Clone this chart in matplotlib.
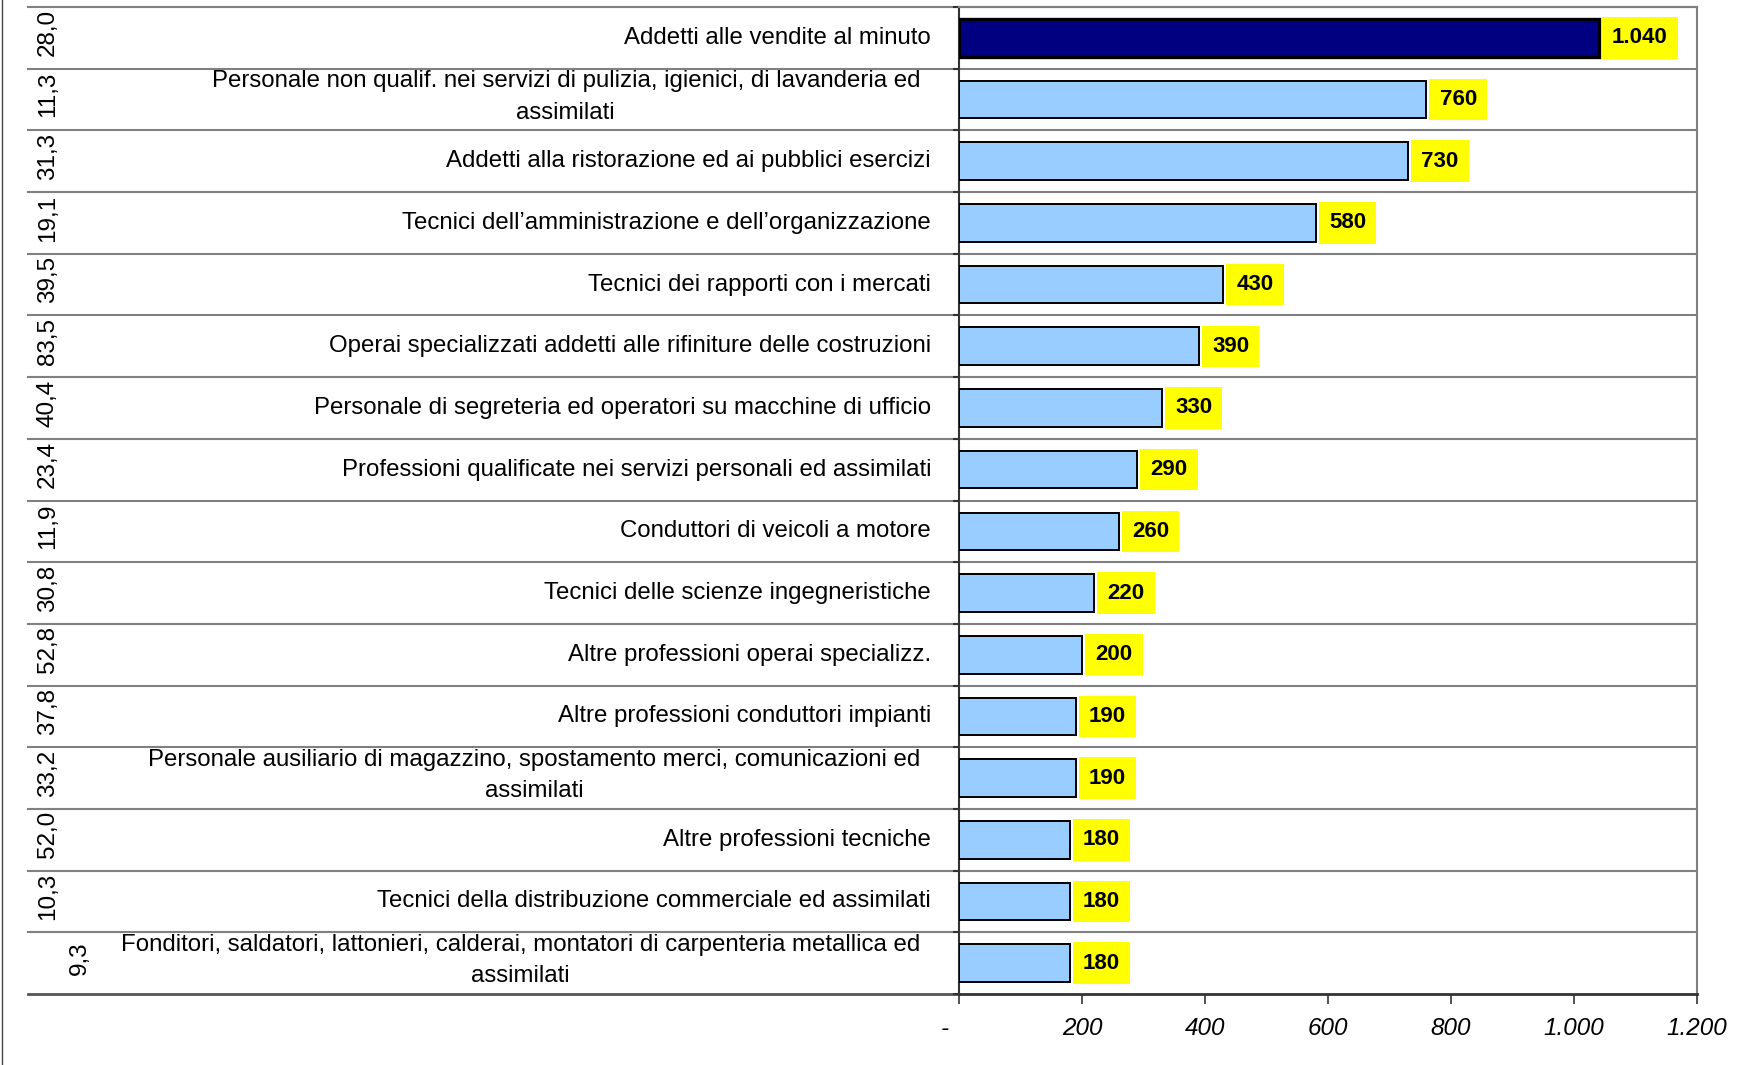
import matplotlib
matplotlib.use('Agg')
import matplotlib.pyplot as plt
from matplotlib.lines import Line2D

plt.rcParams['font.family'] = ['Liberation Sans', 'DejaVu Sans']

# dati (dall'alto verso il basso)
categorie = [
    "Addetti alle vendite al minuto",
    "Personale non qualif. nei servizi di pulizia, igienici, di lavanderia ed\nassimilati",
    "Addetti alla ristorazione ed ai pubblici esercizi",
    "Tecnici dell\u2019amministrazione e dell\u2019organizzazione",
    "Tecnici dei rapporti con i mercati",
    "Operai specializzati addetti alle rifiniture delle costruzioni",
    "Personale di segreteria ed operatori su macchine di ufficio",
    "Professioni qualificate nei servizi personali ed assimilati",
    "Conduttori di veicoli a motore",
    "Tecnici delle scienze ingegneristiche",
    "Altre professioni operai specializz.",
    "Altre professioni conduttori impianti",
    "Personale ausiliario di magazzino, spostamento merci, comunicazioni ed\nassimilati",
    "Altre professioni tecniche",
    "Tecnici della distribuzione commerciale ed assimilati",
    "Fonditori, saldatori, lattonieri, calderai, montatori di carpenteria metallica ed\nassimilati",
]
valori = [1040, 760, 730, 580, 430, 390, 330, 290, 260, 220, 200, 190, 190, 180, 180, 180]
quote = ['28,0', '11,3', '31,3', '19,1', '39,5', '83,5', '40,4', '23,4',
         '11,9', '30,8', '52,8', '37,8', '33,2', '52,0', '10,3', '9,3']
tick_val = [0, 200, 400, 600, 800, 1000, 1200]
tick_lab = ['-    ', '200', '400', '600', '800', '1.000', '1.200']

W, H = 1742, 1065
fig = plt.figure(figsize=(W/100, H/100), dpi=100)
x0, x1 = 959, 1697
ytop, ybot = 7, 994
ax = fig.add_axes([x0/W, 1-ybot/H, (x1-x0)/W, (ybot-ytop)/H])

def fx(px):
    # pixel della figura -> coordinate dell'asse in x
    return (px - x0) / (x1 - x0)

n = len(valori)
pos = list(range(n))
colori = ['#000080'] + ['#99CCFF']*(n-1)
bordi = [2.4] + [1.4]*(n-1)
ax.barh(pos, valori, height=0.61, color=colori, edgecolor='black', linewidth=bordi, zorder=3)
ax.set_xlim(0, 1200)
ax.set_ylim(n-0.5, -0.5)

for i, v in enumerate(valori):
    ax.annotate(f"{v:,}".replace(',', '.'), xy=(v, i), xytext=(9.5, 0),
                textcoords='offset points', ha='left', va='center',
                fontsize=16, fontweight='bold', zorder=4,
                family=['Liberation Sans Narrow', 'Liberation Sans'],
                bbox=dict(boxstyle='square,pad=0.46', fc='#FFFF00', ec='none'))

tr = ax.get_yaxis_transform()
for i, (c, q) in enumerate(zip(categorie, quote)):
    if '\n' in c:
        ax.text(fx(920), i - 0.04, c, transform=tr, ha='right', va='center',
                multialignment='center', fontsize=17.3, linespacing=1.55)
    else:
        ax.text(fx(931), i, c, transform=tr, ha='right', va='center',
                fontsize=17.3)
    qx = 80 if len(q) < 4 else 48
    ax.text(fx(qx), i - 0.08, q, transform=tr, ha='center', va='center',
            rotation=90, fontsize=17.5)

# linee di separazione delle righe
for k in range(n):
    ax.plot([fx(28), 1], [k-0.5, k-0.5], transform=tr, color='#808080',
            lw=1.5, clip_on=False, zorder=1)
ax.plot([fx(28), 0], [n-0.5, n-0.5], transform=tr, color='#555555',
        lw=2, clip_on=False, zorder=1)

for s in ['top', 'right']:
    ax.spines[s].set_color('#808080')
    ax.spines[s].set_linewidth(1.5)
ax.spines['left'].set_color('#333333')
ax.spines['left'].set_linewidth(1.5)
ax.spines['bottom'].set_color('#333333')
ax.spines['bottom'].set_linewidth(2)

ax.set_yticks([k-0.5 for k in range(n+1)])
ax.set_yticklabels([])
ax.tick_params(axis='y', length=4, width=1.5, color='#333333', direction='out')
ax.set_xticks(tick_val)
ax.set_xticklabels(tick_lab, fontsize=17.5, style='italic')
ax.tick_params(axis='x', length=7.5, width=1.2, color='#333333', pad=9)

fig.add_artist(Line2D([2/W, 2/W], [0, 1], color='#444444', lw=1))

fig.savefig('out.png', dpi=100)
